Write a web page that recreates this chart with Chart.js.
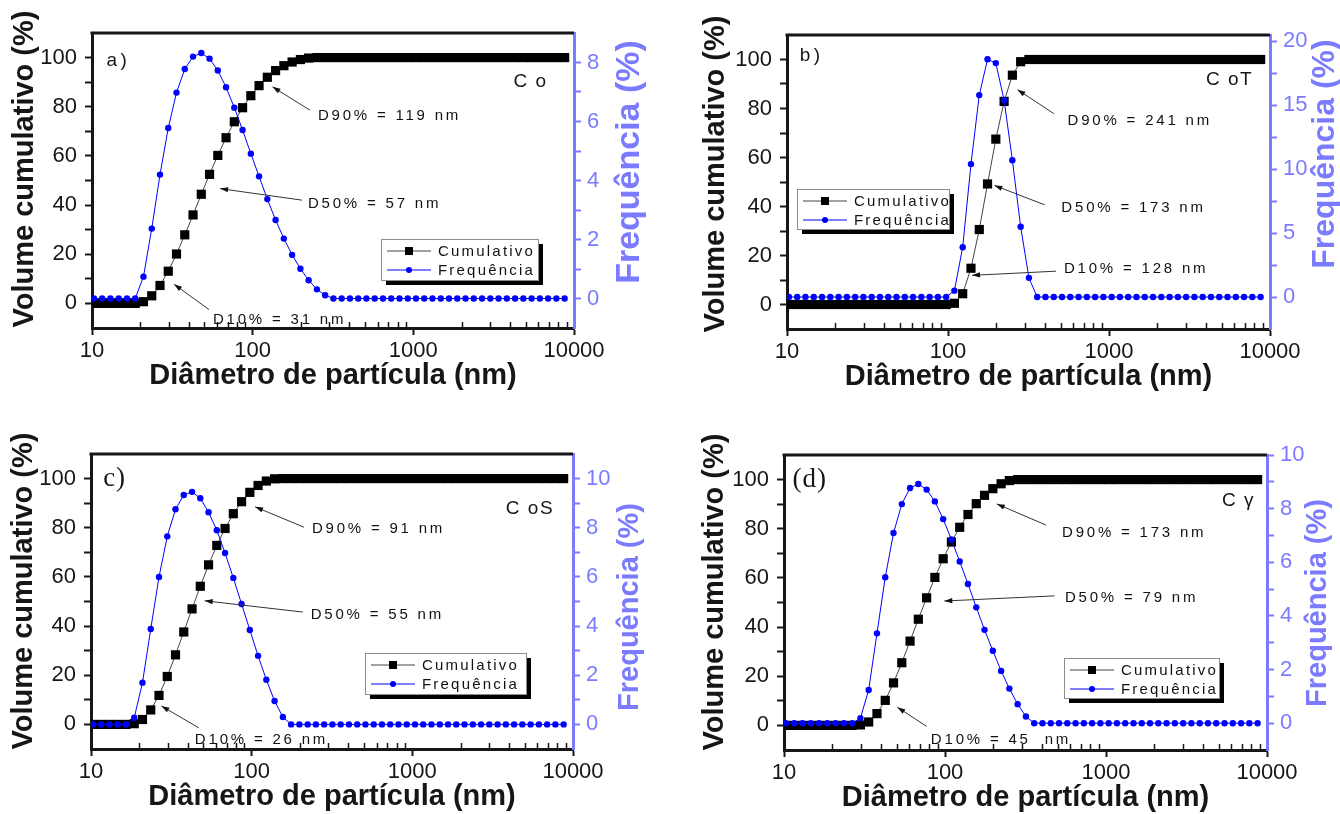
<!DOCTYPE html>
<html>
<head>
<meta charset="utf-8">
<script src="https://cdn.jsdelivr.net/npm/chart.js@4.4.1/dist/chart.umd.min.js"></script>
<style>
  html, body { margin: 0; padding: 0; background: #fff; overflow: hidden; }
  #wrap { position: relative; width: 1340px; height: 814px; }
  canvas { position: absolute; }
</style>
</head>
<body>
<div id="wrap">
  <canvas id="ca" width="670" height="407" style="left:0;top:0"></canvas>
  <canvas id="cb" width="670" height="407" style="left:670px;top:0"></canvas>
  <canvas id="cc" width="670" height="410" style="left:0;top:407px"></canvas>
  <canvas id="cd" width="670" height="410" style="left:670px;top:407px"></canvas>
</div>
<script>
// particle diameter classes (nm), same for the four samples
const diameters = [10.28, 11.57, 13.02, 14.66, 16.51, 18.58, 20.91, 23.54, 26.50, 29.83,
  33.57, 37.79, 42.55, 47.89, 53.91, 60.67, 68.30, 76.88, 86.54, 97.41,
  109.6, 123.4, 138.9, 156.4, 176.0, 198.2, 223.1, 251.1, 282.7, 318.2,
  358.1, 403.1, 453.8, 510.8, 575.0, 647.2, 728.5, 820.1, 923.1, 1039,
  1169, 1316, 1482, 1668, 1877, 2113, 2379, 2678, 3014, 3393,
  3819, 4299, 4839, 5447, 6132, 6902, 7769, 8745];

// a) Co
const cumA = [0, 0, 0, 0, 0, 0, 0.7, 3.1, 7.3, 13.1,
  20.1, 27.9, 36.0, 44.4, 52.5, 60.2, 67.4, 73.9, 79.6, 84.5,
  88.6, 92.0, 94.7, 96.7, 98.2, 99.2, 99.8, 100, 100, 100,
  100, 100, 100, 100, 100, 100, 100, 100, 100, 100,
  100, 100, 100, 100, 100, 100, 100, 100, 100, 100,
  100, 100, 100, 100, 100, 100, 100, 100];
const freqA = [0, 0, 0, 0, 0, 0, 0.74, 2.37, 4.2, 5.78,
  6.98, 7.78, 8.2, 8.32, 8.13, 7.73, 7.16, 6.47, 5.71, 4.91,
  4.14, 3.37, 2.66, 2.03, 1.48, 1.01, 0.62, 0.31, 0.11, 0,
  0, 0, 0, 0, 0, 0, 0, 0, 0, 0,
  0, 0, 0, 0, 0, 0, 0, 0, 0, 0,
  0, 0, 0, 0, 0, 0, 0, 0];

// b) CoT
const cumB = [0, 0, 0, 0, 0, 0, 0, 0, 0, 0,
  0, 0, 0, 0, 0, 0, 0, 0, 0, 0,
  0.5, 4.4, 14.8, 30.6, 49.2, 67.5, 82.9, 93.6, 99.1, 100,
  100, 100, 100, 100, 100, 100, 100, 100, 100, 100,
  100, 100, 100, 100, 100, 100, 100, 100, 100, 100,
  100, 100, 100, 100, 100, 100, 100, 100];
const freqB = [0, 0, 0, 0, 0, 0, 0, 0, 0, 0,
  0, 0, 0, 0, 0, 0, 0, 0, 0, 0,
  0.5, 3.9, 10.4, 15.8, 18.6, 18.3, 15.4, 10.7, 5.5, 1.5,
  0, 0, 0, 0, 0, 0, 0, 0, 0, 0,
  0, 0, 0, 0, 0, 0, 0, 0, 0, 0,
  0, 0, 0, 0, 0, 0, 0, 0];

// c) CoS
const cumC = [0, 0, 0, 0, 0, 0.3, 2.0, 5.9, 11.8, 19.5,
  28.3, 37.6, 47.0, 56.2, 64.9, 72.8, 79.7, 85.7, 90.6, 94.4,
  97.2, 99.0, 99.9, 100, 100, 100, 100, 100, 100, 100,
  100, 100, 100, 100, 100, 100, 100, 100, 100, 100,
  100, 100, 100, 100, 100, 100, 100, 100, 100, 100,
  100, 100, 100, 100, 100, 100, 100, 100];
const freqC = [0, 0, 0, 0, 0, 0.27, 1.7, 3.88, 6.0, 7.65,
  8.75, 9.33, 9.46, 9.2, 8.63, 7.9, 6.97, 5.96, 4.9, 3.84,
  2.79, 1.82, 0.95, 0.3, 0, 0, 0, 0, 0, 0,
  0, 0, 0, 0, 0, 0, 0, 0, 0, 0,
  0, 0, 0, 0, 0, 0, 0, 0, 0, 0,
  0, 0, 0, 0, 0, 0, 0, 0];

// (d) Cgamma
const cumD = [0, 0, 0, 0, 0, 0, 0, 0, 0, 0.2,
  1.4, 4.8, 10.2, 17.3, 25.5, 34.3, 43.2, 51.9, 60.2, 67.8,
  74.6, 80.6, 85.8, 90.2, 93.6, 96.3, 98.3, 99.6, 100, 100,
  100, 100, 100, 100, 100, 100, 100, 100, 100, 100,
  100, 100, 100, 100, 100, 100, 100, 100, 100, 100,
  100, 100, 100, 100, 100, 100, 100, 100];
const freqD = [0, 0, 0, 0, 0, 0, 0, 0, 0, 0.19,
  1.24, 3.35, 5.44, 7.09, 8.17, 8.77, 8.92, 8.71, 8.27, 7.61,
  6.85, 6.03, 5.19, 4.32, 3.48, 2.7, 1.95, 1.29, 0.71, 0.25,
  0, 0, 0, 0, 0, 0, 0, 0, 0, 0,
  0, 0, 0, 0, 0, 0, 0, 0, 0, 0,
  0, 0, 0, 0, 0, 0, 0, 0];

// axis tick labels
const xMajor = [10, 100, 1000, 10000];
const leftTicks = [0, 20, 40, 60, 80, 100];
const rightTicksA = [0, 2, 4, 6, 8];
const rightTicksB = [0, 5, 10, 15, 20];
const rightTicksC = [0, 2, 4, 6, 8, 10];
const rightTicksD = [0, 2, 4, 6, 8, 10];

const FONT = "'Liberation Sans', Arial, sans-serif";
const SERIF = "'Liberation Serif', 'Times New Roman', serif";
const INK = '#161616';
const LAV = '#7b7bff';
const BLUE = '#0000ff';
const CLEAR = 'rgba(0,0,0,0)';

const panels = [
  {
    canvas: 'ca', cum: cumA, freq: freqA,
    right: { min: -1, max: 9, step: 1, labels: rightTicksA },
    box: { yWidth: 92, y2Width: 96, top: 33, bottom: 14 },
    titles: { y: [25, 169], y2: [630, 162], y2Size: 34 },
    corner: { text: 'a)', x: 12.3, y: 98.9, serif: false },
    sample: { text: 'C o', x: 4198, y: 90 },
    notes: [
      { text: 'D90% = 119 nm', tx: 254.7, ty: 76.1, from: [227.5, 78.6], to: [132.8, 88.1] },
      { text: 'D50% = 57 nm', tx: 220.8, ty: 40.3, from: [202.8, 42], to: [62.7, 46.7] },
      { text: 'D10% = 31 nm', tx: 56.6, ty: -6.8, from: [53.5, -2.5], to: [32.4, 7.8] }
    ],
    legend: { x: 628, y: 26.3, w: 157, h: 41 }
  },
  {
    canvas: 'cb', cum: cumB, freq: freqB,
    right: { min: -2.5, max: 20.5, step: 2.5, labels: rightTicksB },
    box: { yWidth: 117, y2Width: 70, top: 35, bottom: 13 },
    titles: { y: [46, 174], y2: [655, 154], y2Size: 32 },
    corner: { text: 'b)', x: 12, y: 101.6, serif: false },
    sample: { text: 'C oT', x: 4000, y: 91.9 },
    notes: [
      { text: 'D90% = 241 nm', tx: 553, ty: 75, from: [455, 77.9], to: [270, 87.7] },
      { text: 'D50% = 173 nm', tx: 506, ty: 39.6, from: [398, 40.7], to: [194, 48.6] },
      { text: 'D10% = 128 nm', tx: 525, ty: 14.6, from: [469, 13.6], to: [141, 11.9] }
    ],
    legend: { x: 11.5, y: 47.3, w: 152, h: 40 }
  },
  {
    canvas: 'cc', cum: cumC, freq: freqC,
    right: { min: -1, max: 11, step: 1, labels: rightTicksC },
    box: { yWidth: 91, y2Width: 97, top: 47, bottom: 3 },
    titles: { y: [24, 184], y2: [630, 200], y2Size: 29 },
    corner: { text: 'c)', x: 11.9, y: 100, serif: true },
    sample: { text: 'C oS', x: 3820, y: 87.7 },
    notes: [
      { text: 'D90% = 91 nm', tx: 237, ty: 79.6, from: [212, 80.2], to: [105, 88.5] },
      { text: 'D50% = 55 nm', tx: 233, ty: 44.7, from: [208, 45.7], to: [51, 50.3] },
      { text: 'D10% = 26 nm', tx: 44.3, ty: -6.4, from: [46.9, -1.4], to: [27.4, 7.5] }
    ],
    legend: { x: 505, y: 29.2, w: 161, h: 41 }
  },
  {
    canvas: 'cd', cum: cumD, freq: freqD,
    right: { min: -1, max: 10, step: 1, labels: rightTicksD },
    box: { yWidth: 114, y2Width: 73, top: 48, bottom: 2 },
    titles: { y: [45, 185], y2: [648, 196], y2Size: 29 },
    corner: { text: '(d)', x: 11.3, y: 100, serif: true },
    sample: { text: 'C γ', x: 5250, y: 91.5 },
    notes: [
      { text: 'D90% = 173 nm', tx: 533, ty: 78.2, from: [424, 81.5], to: [209.8, 90.1] },
      { text: 'D50% = 79 nm', tx: 556, ty: 51.9, from: [479, 52.7], to: [99, 50.6] },
      { text: 'D10% = 45  nm', tx: 81.7, ty: -5.7, from: [76.9, -0.4], to: [50.6, 7.4] }
    ],
    legend: { x: 547, y: 27.6, w: 155, h: 40 }
  }
];

function xTickValues() {
  const v = [];
  for (let e = 1; e < 4; e++) {
    for (let m = 1; m < 10; m++) v.push(m * Math.pow(10, e));
  }
  v.push(10000);
  return v;
}

function arrow(ctx, x1, y1, x2, y2) {
  ctx.beginPath();
  ctx.moveTo(x1, y1);
  ctx.lineTo(x2, y2);
  ctx.stroke();
  const a = Math.atan2(y2 - y1, x2 - x1), L = 8, W = 2.6;
  ctx.beginPath();
  ctx.moveTo(x2, y2);
  ctx.lineTo(x2 - L * Math.cos(a) + W * Math.sin(a), y2 - L * Math.sin(a) - W * Math.cos(a));
  ctx.lineTo(x2 - L * Math.cos(a) - W * Math.sin(a), y2 - L * Math.sin(a) + W * Math.cos(a));
  ctx.closePath();
  ctx.fill();
}

function vTitle(ctx, text, x, y, color, size) {
  ctx.save();
  ctx.translate(x, y);
  ctx.rotate(-Math.PI / 2);
  ctx.font = 'bold ' + size + 'px ' + FONT;
  ctx.fillStyle = color;
  ctx.textAlign = 'center';
  ctx.textBaseline = 'middle';
  ctx.fillText(text, 0, 0);
  ctx.restore();
}

// frame top, inner minor ticks, y titles, labels, arrows and the boxed legend
function decor(p) {
  return {
    id: 'decor',
    afterDraw(chart) {
      const ctx = chart.ctx, xs = chart.scales.x, ys = chart.scales.y, area = chart.chartArea;
      const px = v => xs.getPixelForValue(v), py = v => ys.getPixelForValue(v);
      ctx.save();
      ctx.strokeStyle = INK;
      ctx.lineWidth = 3;
      ctx.beginPath();
      ctx.moveTo(area.left - 1.5, area.top);
      ctx.lineTo(area.right, area.top);
      ctx.stroke();

      ctx.lineWidth = 1.5;
      xTickValues().filter(v => !xMajor.includes(v)).forEach(v => {
        const x = Math.round(px(v)) + 0.5;
        ctx.beginPath();
        ctx.moveTo(x, area.bottom);
        ctx.lineTo(x, area.bottom - 6);
        ctx.stroke();
      });

      vTitle(ctx, 'Volume cumulativo (%)', p.titles.y[0], p.titles.y[1], INK, 29);
      vTitle(ctx, 'Frequência (%)', p.titles.y2[0], p.titles.y2[1], LAV, p.titles.y2Size);

      ctx.textAlign = 'left';
      ctx.textBaseline = 'middle';
      ctx.fillStyle = INK;
      if (p.corner.serif) {
        ctx.font = '27px ' + SERIF;
        ctx.letterSpacing = '1px';
      } else {
        ctx.font = '19px ' + FONT;
        ctx.letterSpacing = '3.5px';
      }
      ctx.fillText(p.corner.text, px(p.corner.x), py(p.corner.y));

      ctx.font = '19px ' + FONT;
      ctx.letterSpacing = '1.5px';
      ctx.fillText(p.sample.text, px(p.sample.x), py(p.sample.y));

      ctx.font = '15px ' + FONT;
      ctx.letterSpacing = '2.8px';
      ctx.strokeStyle = '#333';
      ctx.fillStyle = '#111';
      ctx.lineWidth = 1;
      p.notes.forEach(n => {
        ctx.fillText(n.text, px(n.tx), py(n.ty));
        arrow(ctx, px(n.from[0]), py(n.from[1]), px(n.to[0]), py(n.to[1]));
      });

      // legend box with drop shadow
      const lg = p.legend, lx = Math.round(px(lg.x)), ly = Math.round(py(lg.y));
      ctx.fillStyle = '#000';
      ctx.fillRect(lx + 5, ly + 5, lg.w, lg.h);
      ctx.fillStyle = '#fff';
      ctx.fillRect(lx, ly, lg.w, lg.h);
      ctx.strokeStyle = '#8c8c8c';
      ctx.strokeRect(lx + 0.5, ly + 0.5, lg.w, lg.h);
      ctx.letterSpacing = '2.2px';
      chart.data.datasets.slice().reverse().forEach((ds, i) => {
        const y = ly + 12 + i * 19;
        ctx.strokeStyle = ds.borderColor;
        ctx.lineWidth = 1;
        ctx.beginPath();
        ctx.moveTo(lx + 6, y);
        ctx.lineTo(lx + 50, y);
        ctx.stroke();
        ctx.fillStyle = ds.pointBackgroundColor;
        if (ds.pointStyle === 'rect') {
          ctx.fillRect(lx + 24, y - 4, 8, 8);
        } else {
          ctx.beginPath();
          ctx.arc(lx + 28, y, 3, 0, Math.PI * 2);
          ctx.fill();
        }
        ctx.fillStyle = '#111';
        ctx.fillText(ds.label, lx + 57, y + 1);
      });
      ctx.letterSpacing = '0px';
      ctx.restore();
    }
  };
}

panels.forEach(p => {
  const cumPts = diameters.map((d, i) => ({ x: d, y: p.cum[i] }));
  const freqPts = diameters.map((d, i) => ({ x: d, y: p.freq[i] }));
  const inLeft = v => v >= 0 && v <= 100;
  const inRight = v => v >= 0 && v <= p.right.labels[p.right.labels.length - 1];

  new Chart(document.getElementById(p.canvas), {
    type: 'line',
    data: {
      datasets: [
        {
          label: 'Frequência', data: freqPts, yAxisID: 'y2', order: 0,
          borderColor: BLUE, borderWidth: 1, tension: 0,
          pointStyle: 'circle', pointRadius: 3.2, pointBorderWidth: 0,
          pointBackgroundColor: BLUE
        },
        {
          label: 'Cumulativo', data: cumPts, yAxisID: 'y', order: 1,
          borderColor: '#444', borderWidth: 1, tension: 0,
          pointStyle: 'rect', pointRadius: 6.5, pointBorderWidth: 0,
          pointBackgroundColor: '#000'
        }
      ]
    },
    options: {
      responsive: false,
      animation: false,
      devicePixelRatio: 1,
      layout: { padding: { left: 0, right: 0, top: p.box.top, bottom: p.box.bottom } },
      plugins: { legend: { display: false }, tooltip: { enabled: false } },
      scales: {
        x: {
          type: 'logarithmic', min: 10, max: 10000, bounds: 'data',
          afterBuildTicks: s => { s.ticks = xTickValues().map(v => ({ value: v })); },
          afterFit: s => { s.height = 65; },
          ticks: {
            autoSkip: false, maxRotation: 0, padding: 3, color: INK,
            font: { family: FONT, size: 22 },
            callback: v => xMajor.includes(v) ? String(v) : ''
          },
          grid: {
            drawOnChartArea: false, tickLength: 7, tickWidth: 2,
            tickColor: c => (c.tick && xMajor.includes(c.tick.value)) ? INK : CLEAR
          },
          border: { color: INK, width: 3 },
          title: {
            display: true, text: 'Diâmetro de partícula (nm)', color: INK,
            font: { family: FONT, size: 29, weight: 'bold' },
            padding: { top: 0, bottom: 0 }
          }
        },
        y: {
          position: 'left', min: -10, max: 110, bounds: 'data',
          afterFit: s => { s.width = p.box.yWidth; },
          ticks: {
            stepSize: 10, includeBounds: false, autoSkip: false, padding: 8, color: INK,
            font: { family: FONT, size: 22 },
            callback: v => leftTicks.includes(v) ? String(v) : ''
          },
          grid: {
            drawOnChartArea: false, tickLength: 7, tickWidth: 2,
            tickColor: c => (c.tick && inLeft(c.tick.value)) ? INK : CLEAR
          },
          border: { color: INK, width: 3 }
        },
        y2: {
          position: 'right', min: p.right.min, max: p.right.max, bounds: 'data',
          afterFit: s => { s.width = p.box.y2Width; },
          ticks: {
            stepSize: p.right.step, includeBounds: false, autoSkip: false, padding: 6, color: LAV,
            font: { family: FONT, size: 22 },
            callback: v => p.right.labels.includes(v) ? String(v) : ''
          },
          grid: {
            drawOnChartArea: false, tickLength: 7, tickWidth: 2,
            tickColor: c => (c.tick && inRight(c.tick.value)) ? LAV : CLEAR
          },
          border: { color: LAV, width: 3 }
        }
      }
    },
    plugins: [decor(p)]
  });
});
</script>
</body>
</html>
